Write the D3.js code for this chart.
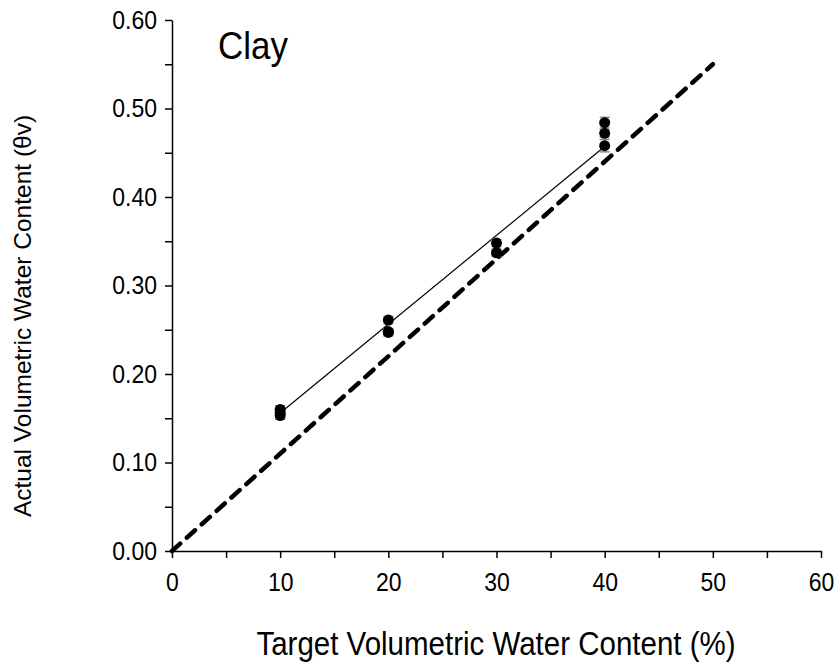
<!DOCTYPE html>
<html>
<head>
<meta charset="utf-8">
<script src="https://cdn.jsdelivr.net/npm/d3@7"></script>
<style>
  html, body { margin: 0; padding: 0; background: #fff; }
  svg { display: block; font-family: "Liberation Sans", Arial, sans-serif; }
</style>
</head>
<body>
<svg id="chart" width="838" height="666"></svg>
<script>
// Target water content (%) for each measured sample
const targetX = [10, 10, 10, 20, 20, 20, 30, 30, 40, 40, 40];
// Measured volumetric water content (θv)
const actualY = [0.160, 0.156, 0.153, 0.261, 0.248, 0.247, 0.348, 0.337, 0.484, 0.472, 0.458];
// Standard error of each measurement
const errY = [0.004, 0.003, 0.004, 0.004, 0.003, 0.004, 0.004, 0.004, 0.006, 0.004, 0.007];
// Fitted trend line endpoints
const trendX = [10, 40];
const trendY = [0.156, 0.457];
// Reference line endpoints
const refX = [0, 50];
const refY = [0, 0.55];
// Axis ticks
const xTicks = [0, 10, 20, 30, 40, 50, 60];
const xMinor = [5, 15, 25, 35, 45, 55];
const yTicks = [0, 0.1, 0.2, 0.3, 0.4, 0.5, 0.6];
const yMinor = [0.05, 0.15, 0.25, 0.35, 0.45, 0.55];

const FONT = "'Liberation Sans', Arial, sans-serif";
const STRETCH = 1.12; // glyphs are drawn a little taller than wide
const svg = d3.select("#chart");
const x = d3.scaleLinear().domain([0, 60]).range([172, 821]);
const y = d3.scaleLinear().domain([0, 0.6]).range([551, 20]);

// Axes
const xAxis = d3.axisBottom(x).tickValues(xTicks.concat(xMinor))
  .tickFormat(d => xTicks.includes(d) ? d3.format("d")(d) : "")
  .tickSize(7).tickSizeOuter(0).tickPadding(15);
const yAxis = d3.axisLeft(y).tickValues(yTicks.concat(yMinor))
  .tickFormat(d => yTicks.some(t => Math.abs(t - d) < 1e-9) ? d3.format(".2f")(d) : "")
  .tickSize(7).tickSizeOuter(0).tickPadding(8);

const gx = svg.append("g").attr("transform", `translate(0,${y(0)})`).call(xAxis);
const gy = svg.append("g").attr("transform", `translate(${x(0)},0)`).call(yAxis);
[gx, gy].forEach(g => {
  g.selectAll("path, line").attr("stroke", "#000").attr("stroke-width", 1.5);
  g.selectAll("text").attr("font-size", 23).attr("fill", "#000").attr("font-family", FONT)
    .each(function () {
      const t = d3.select(this);
      const tx = +t.attr("x") || 0, ty = +t.attr("y") || 0;
      t.attr("x", 0).attr("y", 0)
        .attr("transform", `translate(${tx},${ty}) scale(1,${STRETCH})`);
    });
});

// Reference line
svg.append("line")
  .attr("x1", x(refX[0])).attr("y1", y(refY[0]))
  .attr("x2", x(refX[1])).attr("y2", y(refY[1]))
  .attr("stroke", "#000").attr("stroke-width", 4.5)
  .attr("stroke-dasharray", "11,9").attr("stroke-linecap", "round");

// Trend line
svg.append("line")
  .attr("x1", x(trendX[0])).attr("y1", y(trendY[0]))
  .attr("x2", x(trendX[1])).attr("y2", y(trendY[1]))
  .attr("stroke", "#000").attr("stroke-width", 1.2);

const pts = targetX.map((t, i) => ({ t, v: actualY[i], e: errY[i] }));

// Error bars
const eb = svg.append("g").attr("stroke", "#888").attr("stroke-width", 1.5);
pts.forEach(p => {
  eb.append("line").attr("x1", x(p.t)).attr("x2", x(p.t))
    .attr("y1", y(p.v - p.e)).attr("y2", y(p.v + p.e));
  [p.v - p.e, p.v + p.e].forEach(v => {
    eb.append("line").attr("x1", x(p.t) - 5).attr("x2", x(p.t) + 5)
      .attr("y1", y(v)).attr("y2", y(v));
  });
});

// Points
svg.append("g").selectAll("circle").data(pts).join("circle")
  .attr("cx", d => x(d.t)).attr("cy", d => y(d.v)).attr("r", 5.5)
  .attr("fill", "#000");

// Labels
svg.append("text").attr("transform", "translate(218,59) scale(1,1.12)")
  .attr("font-size", 35).attr("font-family", FONT).text("Clay");
svg.append("text").attr("transform", "translate(496,655) scale(1,1.12)")
  .attr("text-anchor", "middle").attr("font-size", 29.5).attr("font-family", FONT)
  .text("Target Volumetric Water Content (%)");
svg.append("text").attr("transform", "translate(31,316) rotate(-90)")
  .attr("text-anchor", "middle").attr("font-size", 24.5).attr("font-family", FONT)
  .text("Actual Volumetric Water Content (θv)");
</script>
</body>
</html>
